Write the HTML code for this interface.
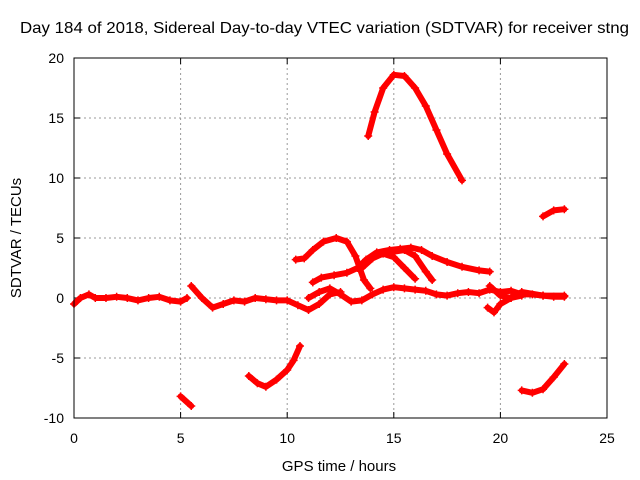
<!DOCTYPE html>
<html><head><meta charset="utf-8"><style>
body{margin:0;background:#fff}
svg{display:block;font-family:"Liberation Sans",sans-serif}
</style></head><body>
<svg id="chart" width="640" height="480">
<rect width="640" height="480" fill="#fff"/>
<text x="20" y="33" font-size="16" textLength="609" lengthAdjust="spacingAndGlyphs">Day 184 of 2018, Sidereal Day-to-day VTEC variation (SDTVAR) for receiver stng</text>
<g id="grid"></g>
<g id="series"></g>
<rect x="74" y="58" width="533" height="360" fill="none" stroke="#000" stroke-width="1"/>
<text x="339" y="471" font-size="15" text-anchor="middle">GPS time / hours</text>
<text x="0" y="0" font-size="15" text-anchor="middle" transform="translate(21,238) rotate(-90)">SDTVAR / TECUs</text>
</svg>
<script>
const xTicks=[0,5,10,15,20,25];
const yTicks=[-10,-5,0,5,10,15,20];
const trackA=[[0,-0.5],[0.3,0],[0.7,0.3],[1,0],[1.5,0],[2,0.1],[2.5,0],[3,-0.2],[3.5,0],[4,0.1],[4.5,-0.2],[5,-0.3],[5.3,0]];
const trackB=[[5.5,1],[6,0],[6.5,-0.8],[7,-0.5],[7.5,-0.2],[8,-0.3],[8.5,0],[9,-0.1],[9.5,-0.2],[10,-0.2],[10.5,-0.6],[11,-1],[11.5,-0.5],[12,0.3],[12.5,0.5]];
const trackC=[[5,-8.2],[5.5,-9]];
const trackD=[[8.2,-6.5],[8.6,-7.1],[9,-7.4],[9.5,-6.8],[10,-6],[10.3,-5.2],[10.6,-4]];
const trackE=[[10.4,3.2],[10.8,3.3],[11.2,4],[11.7,4.7],[12.3,5],[12.8,4.7],[13.2,3.5],[13.6,1.5],[13.9,0.8]];
const trackF=[[11.2,1.3],[11.6,1.7],[12.2,1.9],[12.8,2.1],[13.3,2.5],[13.7,3.2],[14.2,3.8],[14.8,4],[15.3,4.1],[15.8,4.2],[16.3,4],[16.8,3.5],[17.5,3],[18.2,2.6],[19,2.3],[19.5,2.2]];
const trackG=[[13.8,13.5],[14.1,15.5],[14.5,17.5],[15,18.6],[15.5,18.5],[16,17.5],[16.5,16],[17,14],[17.5,12],[18.2,9.8]];
const trackH=[[13.5,2.5],[14,3.3],[14.5,3.7],[15,3.4],[15.5,2.5],[16,1.6]];
const trackI=[[14.8,3.8],[15.5,4],[16,3.5],[16.5,2.2],[16.8,1.5]];
const trackJ=[[11,0],[11.5,0.5],[12,0.8],[12.5,0.3],[13,-0.3],[13.5,-0.2],[14,0.3],[14.5,0.7],[15,0.9],[15.5,0.8],[16,0.7],[16.5,0.6],[17,0.3],[17.5,0.2],[18,0.4],[18.5,0.5],[19,0.4],[19.5,0.7],[20,0.5],[20.5,0.6],[21,0.3],[21.5,0.3],[22,0.2],[22.5,0.1],[23,0.1]];
const trackK=[[19.4,-0.8],[19.7,-1.2],[20,-0.5],[20.5,0],[21,0.2]];
const trackL=[[21,-7.7],[21.5,-7.9],[22,-7.6],[22.5,-6.6],[23,-5.5]];
const trackM=[[22,6.8],[22.5,7.3],[23,7.4]];
const trackN=[[19.5,1],[20,0.2],[20.5,0],[21,0.5],[22,0.2],[23,0.2]];
const tracks=[trackA,trackB,trackC,trackD,trackE,trackF,trackG,trackH,trackI,trackJ,trackK,trackL,trackM,trackN];
const NS="http://www.w3.org/2000/svg";
const X=v=>74+v*(533/25), Y=v=>298-v*12;
const grid=document.getElementById('grid'), ser=document.getElementById('series');
function mk(tag,at,parent){const e=document.createElementNS(NS,tag);for(const k in at)e.setAttribute(k,at[k]);parent.appendChild(e);return e;}
xTicks.forEach(t=>{
  if(t>0&&t<25){const l=mk('line',{x1:X(t),x2:X(t),y1:58,y2:418,stroke:'#999','stroke-dasharray':'2,3'},grid);
  
  }
  mk('line',{x1:X(t),x2:X(t),y1:418,y2:412,stroke:'#000'},grid);
  mk('line',{x1:X(t),x2:X(t),y1:58,y2:64,stroke:'#000'},grid);
  const tx=mk('text',{x:X(t),y:443,'font-size':14,'text-anchor':'middle'},grid);tx.textContent=t;
  
  
});
yTicks.forEach(t=>{
  if(t>-10&&t<20){const l=mk('line',{x1:74,x2:607,y1:Y(t),y2:Y(t),stroke:'#999','stroke-dasharray':'2,3'},grid);
  
  }
  mk('line',{x1:74,x2:80,y1:Y(t),y2:Y(t),stroke:'#000'},grid);
  mk('line',{x1:607,x2:601,y1:Y(t),y2:Y(t),stroke:'#000'},grid);
  const tx=mk('text',{x:64,y:Y(t)+5,'font-size':14,'text-anchor':'end'},grid);tx.textContent=t;
  
  
});
tracks.forEach(tr=>{
  const p=mk('polyline',{points:tr.map(d=>X(d[0])+','+Y(d[1])).join(' '),fill:'none',stroke:'#f00','stroke-width':6,'stroke-linejoin':'round','stroke-linecap':'round'},ser);
  
  
  tr.forEach(d=>{
    const m=mk('path',{d:`M${X(d[0])-4},${Y(d[1])}h8M${X(d[0])},${Y(d[1])-4}v8`,stroke:'#f00','stroke-width':1.5},ser);
    
    
  });
});
</script>
</body></html>
